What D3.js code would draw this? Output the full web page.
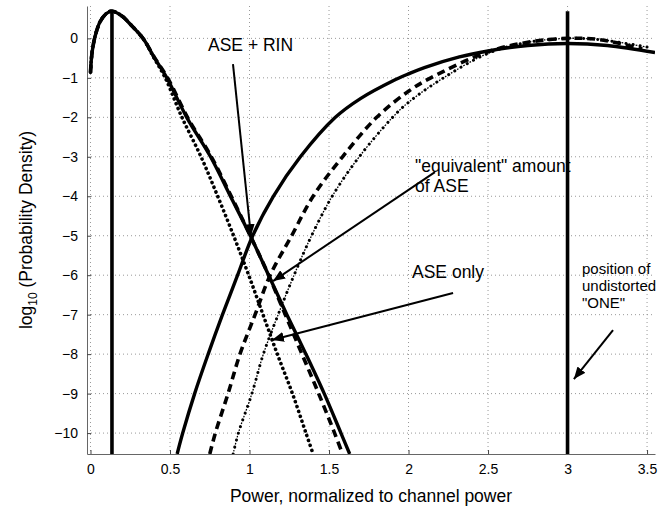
<!DOCTYPE html>
<html>
<head>
<meta charset="utf-8">
<script src="https://cdn.jsdelivr.net/npm/d3@7"></script>
<style>
  body { margin: 0; background: #fff; }
  text { font-family: "Liberation Sans", Arial, Helvetica, sans-serif; }
</style>
</head>
<body>
<div id="content"></div>
<script>
// x = power normalised to channel power, y = log10 of probability density
const aseRinZero = [[0.0,-0.86],[0.006,-0.5],[0.015,-0.22],[0.03,0.07],[0.06,0.42],[0.1,0.63],[0.135,0.69],[0.2,0.56],[0.25,0.36],[0.33,0.0],[0.40,-0.48],[0.48,-1.0],[0.605,-2.0],[0.755,-3.0],[0.88,-4.0],[1.005,-5.0],[1.12,-6.0],[1.235,-7.0],[1.355,-8.0],[1.47,-9.0],[1.575,-10.0],[1.63,-10.53]];
const equivZero = [[0.0,-0.86],[0.006,-0.5],[0.015,-0.22],[0.03,0.07],[0.06,0.42],[0.1,0.63],[0.135,0.69],[0.2,0.56],[0.25,0.36],[0.33,0.0],[0.40,-0.47],[0.485,-1.0],[0.61,-2.0],[0.76,-3.0],[0.885,-4.0],[1.005,-5.0],[1.12,-6.0],[1.225,-7.0],[1.33,-8.0],[1.435,-9.0],[1.535,-10.0],[1.585,-10.53]];
const aseOnlyZero = [[0.0,-0.86],[0.006,-0.5],[0.015,-0.22],[0.03,0.07],[0.06,0.42],[0.1,0.63],[0.135,0.69],[0.2,0.56],[0.25,0.36],[0.33,0.0],[0.40,-0.5],[0.47,-1.0],[0.575,-2.0],[0.695,-3.0],[0.80,-4.0],[0.90,-5.0],[0.995,-6.0],[1.085,-7.0],[1.175,-8.0],[1.27,-9.0],[1.355,-10.0],[1.40,-10.53]];

const aseRinOne = [[0.545,-10.53],[0.58,-10],[0.655,-9],[0.74,-8],[0.83,-7],[0.925,-6],[1.02,-5],[1.15,-4],[1.32,-3],[1.54,-2],[1.7,-1.52],[1.9,-1.08],[2.0,-0.9],[2.1,-0.74],[2.32,-0.47],[2.5,-0.32],[2.75,-0.18],[3.0,-0.13],[3.25,-0.18],[3.55,-0.36]];
const equivOne = [[0.75,-10.53],[0.785,-10],[0.865,-9],[0.94,-8],[1.035,-7],[1.13,-6],[1.265,-5],[1.40,-4],[1.585,-3],[1.80,-2],[2.0,-1.34],[2.14,-1],[2.5,-0.34],[2.75,-0.1],[3.0,0.0],[3.2,-0.03],[3.47,-0.27]];
const aseOnlyOne = [[0.897,-10.53],[0.93,-10],[1.015,-9],[1.087,-8],[1.18,-7],[1.28,-6],[1.39,-5],[1.52,-4],[1.69,-3],[1.90,-2],[2.0,-1.62],[2.22,-1],[2.5,-0.38],[2.75,-0.1],[3.0,0.0],[3.2,-0.03],[3.5,-0.22]];

const markerX = [0.135, 3.0];
const markerTop = 0.69;

const xTicks = [0, 0.5, 1, 1.5, 2, 2.5, 3, 3.5];
const yTicks = [-10, -9, -8, -7, -6, -5, -4, -3, -2, -1, 0];

// annotation arrows: [from, to] in data units
const arrows = [
    [[0.896,-0.65],[1.009,-5.01]],
    [[2.166,-3.39],[1.148,-6.15]],
    [[2.28,-6.45],[1.141,-7.64]],
    [[3.286,-7.39],[3.04,-8.63]]
];
const notes = [
    {x: 0.739, y: -0.32, lines: ['ASE + RIN'], size: 17.5},
    {x: 2.041, y: -3.39, lines: ['"equivalent" amount', 'of ASE'], size: 17.5},
    {x: 2.022, y: -6.07, lines: ['ASE only'], size: 17.5},
    {x: 3.091, y: -5.98, lines: ['position of', 'undistorted', '"ONE"'], size: 15}
];

let width = 666;
let height = 512;
let padL = 87, padR = 655, padT = 6, padB = 454;

let xScale = d3.scaleLinear().domain([-0.022, 3.55]).range([padL, padR]);
let yScale = d3.scaleLinear().domain([-10.53, 0.82]).range([padB, padT]);

let svg = d3.select('#content').append('svg').attr('width', width).attr('height', height);

let defs = svg.append('defs');
defs.append('clipPath').attr('id', 'plot')
    .append('rect').attr('x', padL).attr('y', padT).attr('width', padR - padL).attr('height', padB - padT);

let arrowHead = defs.append('marker')
    .attr('id', 'head').attr('markerUnits', 'userSpaceOnUse')
    .attr('markerWidth', 13).attr('markerHeight', 10)
    .attr('refX', 12).attr('refY', 5).attr('orient', 'auto');
arrowHead.append('path').attr('d', 'M0,0 L12,5 L0,10 Z').attr('fill', '#000');

// grid
let grid = svg.append('g').attr('stroke', '#999').attr('stroke-width', 1).attr('stroke-dasharray', '1,3');
grid.selectAll('.gx').data(xTicks).enter().append('line')
    .attr('x1', d => xScale(d)).attr('x2', d => xScale(d))
    .attr('y1', padT).attr('y2', padB);
grid.selectAll('.gy').data(yTicks).enter().append('line')
    .attr('x1', padL).attr('x2', padR)
    .attr('y1', d => yScale(d)).attr('y2', d => yScale(d));

// axes
let xAxis = d3.axisBottom(xScale).tickValues(xTicks).tickFormat(d3.format('~g'))
    .tickSizeInner(-4).tickSizeOuter(0).tickPadding(10);
let yAxis = d3.axisLeft(yScale).tickValues(yTicks)
    .tickSizeInner(-4).tickSizeOuter(0).tickPadding(9);

let gx = svg.append('g').attr('transform', `translate(0,${padB})`).call(xAxis);
let gy = svg.append('g').attr('transform', `translate(${padL},0)`).call(yAxis);
[gx, gy].forEach(g => {
    g.select('.domain').attr('stroke', '#666');
    g.selectAll('.tick line').attr('stroke', '#444');
    g.selectAll('.tick text').style('font-size', '14px').attr('fill', '#000')
        .style('font-family', '"Liberation Sans", Arial, sans-serif');
});

// curves
let line = d3.line().x(d => xScale(d[0])).y(d => yScale(d[1])).curve(d3.curveCatmullRom.alpha(0.5));
let plot = svg.append('g').attr('clip-path', 'url(#plot)').attr('fill', 'none').attr('stroke', '#000');

plot.append('path').attr('d', line(aseOnlyZero))
    .attr('stroke-width', 3.6).attr('stroke-linecap', 'round').attr('stroke-dasharray', '0.1,5');
plot.append('path').attr('d', line(aseOnlyOne))
    .attr('stroke-width', 3).attr('stroke-linecap', 'round').attr('stroke-dasharray', '0.1,7');
plot.append('path').attr('d', line(aseOnlyOne))
    .attr('stroke-width', 1.3).attr('stroke-dasharray', '1.6,5.5').attr('stroke-dashoffset', -2.7);
plot.append('path').attr('d', line(equivZero))
    .attr('stroke-width', 3.6).attr('stroke-dasharray', '8,5');
plot.append('path').attr('d', line(equivOne))
    .attr('stroke-width', 3.6).attr('stroke-dasharray', '8,5');
plot.append('path').attr('d', line(aseRinZero)).attr('stroke-width', 3.4);
plot.append('path').attr('d', line(aseRinOne)).attr('stroke-width', 3.4);

plot.selectAll('.marker').data(markerX).enter().append('line')
    .attr('x1', d => xScale(d)).attr('x2', d => xScale(d))
    .attr('y1', yScale(markerTop)).attr('y2', padB)
    .attr('stroke-width', 3.6);

// annotations
svg.selectAll('.arrow').data(arrows).enter().append('line')
    .attr('x1', d => xScale(d[0][0])).attr('y1', d => yScale(d[0][1]))
    .attr('x2', d => xScale(d[1][0])).attr('y2', d => yScale(d[1][1]))
    .attr('stroke', '#000').attr('stroke-width', 2).attr('marker-end', 'url(#head)');

notes.forEach(n => {
    let t = svg.append('text').attr('x', xScale(n.x)).attr('y', yScale(n.y))
        .style('font-size', n.size + 'px');
    n.lines.forEach((s, i) => {
        t.append('tspan').attr('x', xScale(n.x)).attr('dy', i === 0 ? 0 : n.size * 1.12).text(s);
    });
});

// axis labels
svg.append('text').attr('x', (padL + padR) / 2).attr('y', 502)
    .attr('text-anchor', 'middle').style('font-size', '17.5px')
    .text('Power, normalized to channel power');

let yl = svg.append('text').attr('transform', `translate(32,${(padT + padB) / 2}) rotate(-90)`)
    .attr('text-anchor', 'middle').style('font-size', '17.5px');
yl.append('tspan').text('log');
yl.append('tspan').attr('dy', 5).style('font-size', '12px').text('10');
yl.append('tspan').attr('dy', -5).text(' (Probability Density)');
</script>
</body>
</html>
